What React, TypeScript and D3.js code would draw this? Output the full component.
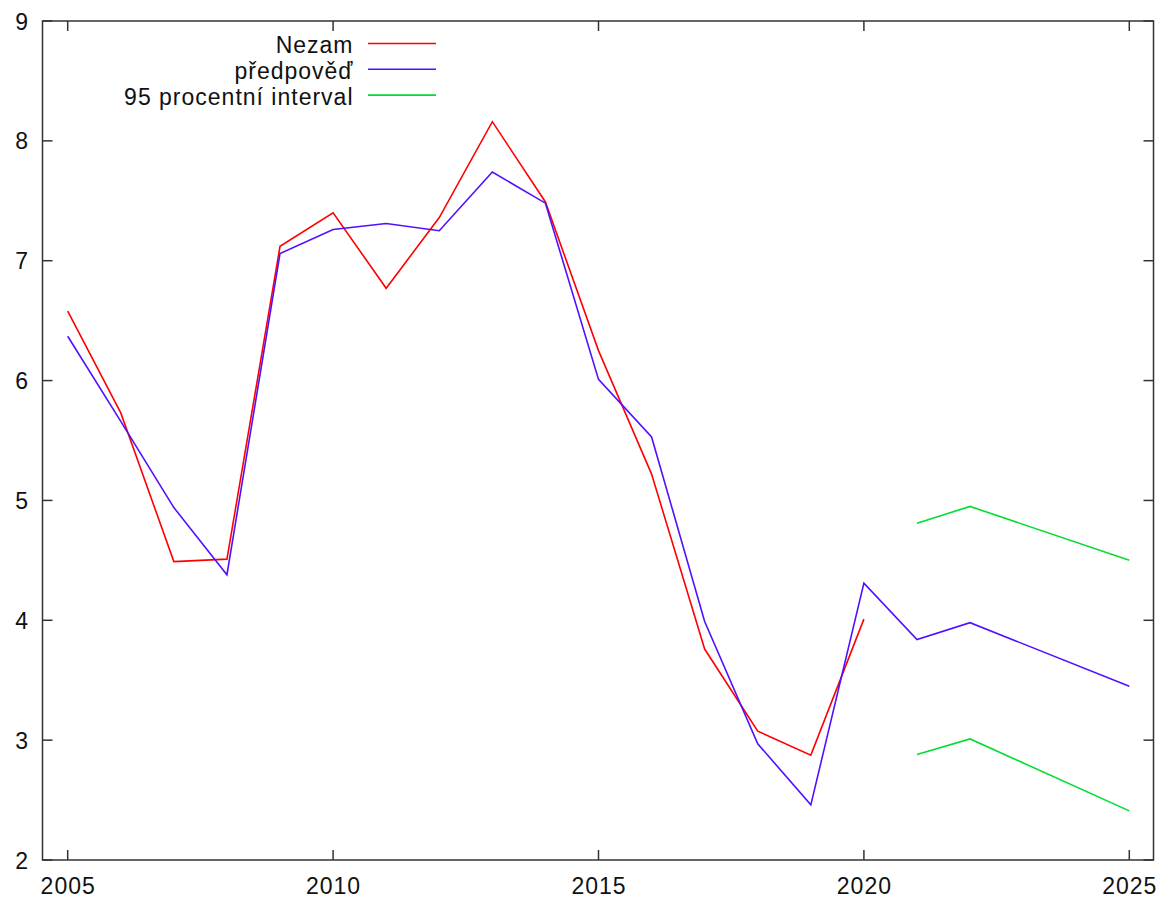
import React from "react";
import * as d3 from "d3";

const years = [2005, 2006, 2007, 2008, 2009, 2010, 2011, 2012, 2013, 2014, 2015, 2016, 2017, 2018, 2019, 2020];
const nezam = [6.58, 5.73, 4.49, 4.51, 7.12, 7.4, 6.77, 7.36, 8.16, 7.49, 6.25, 5.22, 3.76, 3.075, 2.875, 4.01];
const predYears = [2005, 2006, 2007, 2008, 2009, 2010, 2011, 2012, 2013, 2014, 2015, 2016, 2017, 2018, 2019, 2020, 2021, 2022, 2025];
const predpoved = [6.37, 5.66, 4.94, 4.38, 7.06, 7.26, 7.31, 7.25, 7.74, 7.48, 6.01, 5.53, 3.99, 2.97, 2.46, 4.31, 3.84, 3.98, 3.45];
const ciYears = [2021, 2022, 2025];
const ciUpper = [4.81, 4.95, 4.5];
const ciLower = [2.88, 3.01, 2.41];
const xTicks = [2005, 2010, 2015, 2020, 2025];
const yTicks = [2, 3, 4, 5, 6, 7, 8, 9];
const legendLabels = ["Nezam", "předpověď", "95 procentní interval"];
const colors = ["#ff0000", "#5010ff", "#00dd33"];

const W = 1162;
const H = 898;
const left = 42.5;
const right = 1153.5;
const top = 21;
const bottom = 860;
const font = "'Liberation Sans', Arial, Helvetica, sans-serif";
const ls = 1;

export default function App() {
  const x = d3.scaleLinear().domain([2005, 2025]).range([67.7, 1129.3]);
  const y = d3.scaleLinear().domain([2, 9]).range([bottom, top]);
  const line = d3
    .line<[number, number]>()
    .x((d) => x(d[0]))
    .y((d) => y(d[1]));
  const pairs = (xs: number[], ys: number[]) => xs.map((v, i) => [v, ys[i]] as [number, number]);
  const tick = 10;
  return (
    <svg width={W} height={H} style={{ position: "absolute", left: 0, top: 0, background: "#fff" }} fontFamily={font}>
      <rect x={0} y={0} width={W} height={H} fill="#fff" />
      {yTicks.map((t) => (
        <g key={"y" + t}>
          <line x1={left} x2={left + tick} y1={y(t)} y2={y(t)} stroke="#333" strokeWidth={1.5} />
          <line x1={right} x2={right - tick} y1={y(t)} y2={y(t)} stroke="#333" strokeWidth={1.5} />
          <text x={28 + ls} y={y(t) + 8.5} textAnchor="end" fontSize={23} letterSpacing={ls} fill="#111">
            {t}
          </text>
        </g>
      ))}
      {xTicks.map((t) => (
        <g key={"x" + t}>
          <line x1={x(t)} x2={x(t)} y1={bottom} y2={bottom - tick} stroke="#333" strokeWidth={1.5} />
          <line x1={x(t)} x2={x(t)} y1={top} y2={top + tick} stroke="#333" strokeWidth={1.5} />
          <text x={x(t) + ls / 2} y={894} textAnchor="middle" fontSize={23} letterSpacing={ls} fill="#111">
            {t}
          </text>
        </g>
      ))}
      <rect x={left} y={top} width={right - left} height={bottom - top} fill="none" stroke="#333" strokeWidth={1.5} />
      <path d={line(pairs(years, nezam)) || ""} fill="none" stroke={colors[0]} strokeWidth={1.6} />
      <path d={line(pairs(predYears, predpoved)) || ""} fill="none" stroke={colors[1]} strokeWidth={1.6} />
      <path d={line(pairs(ciYears, ciUpper)) || ""} fill="none" stroke={colors[2]} strokeWidth={1.6} />
      <path d={line(pairs(ciYears, ciLower)) || ""} fill="none" stroke={colors[2]} strokeWidth={1.6} />
      {legendLabels.map((l, i) => (
        <g key={l}>
          <text x={352.5 + ls} y={53 + i * 25.8} textAnchor="end" fontSize={23} letterSpacing={ls} fill="#111">
            {l}
          </text>
          <line x1={368} x2={436} y1={43.5 + i * 25.8} y2={43.5 + i * 25.8} stroke={colors[i]} strokeWidth={1.6} />
        </g>
      ))}
    </svg>
  );
}
